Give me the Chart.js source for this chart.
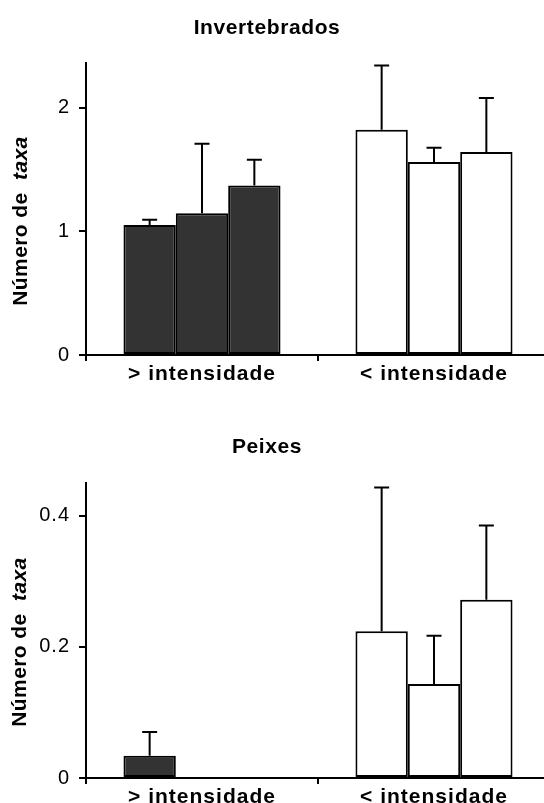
<!DOCTYPE html>
<html>
<head>
<meta charset="utf-8">
<script src="https://cdn.jsdelivr.net/npm/chart.js@4"></script>
<style>
  body { margin: 0; background: #fff; overflow: hidden; width: 544px; height: 803px; position: relative; }
  canvas { position: absolute; left: 0; }
  #c1 { top: 0; }
  #c2 { top: 400px; }
</style>
</head>
<body>
<canvas id="c1" width="556" height="392"></canvas>
<canvas id="c2" width="556" height="403"></canvas>
<script>
// categorias do eixo x
const categorias = ['> intensidade', '< intensidade'];

// Invertebrados: media de cada barra (> intensidade, < intensidade)
const invBarra1 = [1.05, 1.82];
const invBarra2 = [1.145, 1.56];
const invBarra3 = [1.37, 1.64];
// topo da barra de erro
const invErro1 = [1.094, 2.34];
const invErro2 = [1.707, 1.675];
const invErro3 = [1.578, 2.078];
const invTicks = [0, 1, 2];
const invMax = 2.36;

// Peixes
const peiBarra1 = [0.034, 0.224];
const peiBarra2 = [0, 0.1435];
const peiBarra3 = [0, 0.272];
const peiErro1 = [0.070, 0.443];
const peiErro2 = [null, 0.217];
const peiErro3 = [null, 0.385];
const peiTicks = [0, 0.2, 0.4];
const peiMax = 0.45;

const FONTE = "'Liberation Sans', Arial, sans-serif";
const cores = ['#333333', '#ffffff'];

// desenha as barras de erro (so para cima) e os textos
const errosPlugin = {
  id: 'erros',
  beforeDraw(chart) {
    // texto um pouco espacado, como no original
    chart.ctx.letterSpacing = '1px';
  },
  afterDatasetsDraw(chart, args, opts) {
    const ctx = chart.ctx;
    const y = chart.scales.y;
    ctx.save();
    ctx.strokeStyle = '#000';
    ctx.lineWidth = 2;
    opts.erros.forEach((erros, i) => {
      const meta = chart.getDatasetMeta(i);
      meta.data.forEach((bar, j) => {
        const topo = erros[j];
        if (topo == null) return;
        const yv = y.getPixelForValue(chart.data.datasets[i].data[j]);
        const ye = y.getPixelForValue(topo);
        ctx.beginPath();
        ctx.moveTo(bar.x, yv);
        ctx.lineTo(bar.x, ye);
        ctx.moveTo(bar.x - 7.5, ye);
        ctx.lineTo(bar.x + 7.5, ye);
        ctx.stroke();
      });
    });
    ctx.restore();
  },
  afterDraw(chart, args, opts) {
    const ctx = chart.ctx;
    ctx.save();
    ctx.fillStyle = '#000';
    // titulo
    ctx.letterSpacing = '0.6px';
    ctx.font = 'bold 21px ' + FONTE;
    ctx.textAlign = 'center';
    ctx.textBaseline = 'middle';
    ctx.fillText(opts.titulo, opts.tx, opts.ty);
    // titulo do eixo y: "Número de  taxa" com taxa em italico
    ctx.letterSpacing = '0.4px';
    ctx.translate(opts.yx, opts.yy);
    ctx.rotate(-Math.PI / 2);
    const p1 = 'Número de  ';
    const p2 = 'taxa';
    ctx.font = 'bold 21px ' + FONTE;
    const w1 = ctx.measureText(p1).width;
    ctx.font = 'italic bold 21px ' + FONTE;
    const w2 = ctx.measureText(p2).width;
    const x0 = -(w1 + w2) / 2;
    ctx.textAlign = 'left';
    ctx.font = 'bold 21px ' + FONTE;
    ctx.fillText(p1, x0, 0);
    ctx.font = 'italic bold 21px ' + FONTE;
    ctx.fillText(p2, x0 + w1, 0);
    ctx.restore();
    ctx.letterSpacing = '0px';
  }
};

function grafico(id, barras, erros, ticks, max, alturaEixoX, topo, textos) {
  return new Chart(document.getElementById(id), {
    type: 'bar',
    data: {
      labels: categorias,
      datasets: barras.map(b => ({
        data: b,
        backgroundColor: cores,
        borderColor: '#000',
        borderWidth: 2,
        borderSkipped: false,
        barPercentage: 1,
        categoryPercentage: 0.677
      }))
    },
    options: {
      responsive: false,
      animation: false,
      layout: { padding: { top: topo, right: 6, left: 0, bottom: 0 } },
      plugins: {
        legend: { display: false },
        tooltip: { enabled: false },
        erros: Object.assign({ erros: erros }, textos)
      },
      scales: {
        x: {
          afterFit(s) { s.height = alturaEixoX; },
          grid: { drawOnChartArea: false, offset: true, tickLength: 6, color: '#000', lineWidth: 2 },
          border: { color: '#000', width: 2 },
          ticks: { color: '#000', padding: 1, font: { family: FONTE, size: 21, weight: 'bold' } }
        },
        y: {
          min: 0,
          max: max,
          afterFit(s) { s.width = 86; },
          afterBuildTicks(s) { s.ticks = ticks.map(v => ({ value: v })); },
          grid: { drawOnChartArea: false, tickLength: 7, color: '#000', lineWidth: 2 },
          border: { color: '#000', width: 2 },
          ticks: { color: '#000', padding: 9, font: { family: FONTE, size: 20 } }
        }
      }
    },
    plugins: [errosPlugin]
  });
}

grafico('c1', [invBarra1, invBarra2, invBarra3], [invErro1, invErro2, invErro3],
  invTicks, invMax, 37, 63,
  { titulo: 'Invertebrados', tx: 267, ty: 28, yx: 21, yy: 221 });

grafico('c2', [peiBarra1, peiBarra2, peiBarra3], [peiErro1, peiErro2, peiErro3],
  peiTicks, peiMax, 25, 83,
  { titulo: 'Peixes', tx: 267, ty: 47, yx: 20, yy: 242 });
</script>
</body>
</html>
